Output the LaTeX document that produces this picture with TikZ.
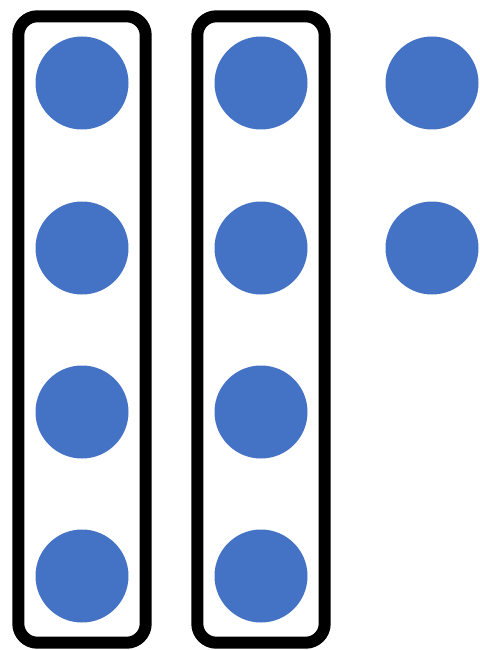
\documentclass[tikz,border=0pt]{standalone}
\usepackage{tikz}
\usetikzlibrary{positioning, fit}
\definecolor{dotblue}{HTML}{4472C4}

\begin{document}
\begin{tikzpicture}[x=1pt,y=-1pt,
    dot/.style={circle,fill=dotblue,minimum size=93pt,inner sep=0pt},
    frame/.style={draw,line width=12pt,rounded corners=19pt,inner xsep=17pt,inner ysep=20pt}]
      \useasboundingbox (0,0) rectangle (479,650);
      % first column
      \node[dot] (a1) at (82,83) {};
      \node[dot] (a2) at (82,248) {};
      \node[dot] (a3) at (82,412) {};
      \node[dot] (a4) at (82,576) {};
      % second column
      \node[dot] (b1) at (261,83) {};
      \node[dot] (b2) at (261,248) {};
      \node[dot] (b3) at (261,412) {};
      \node[dot] (b4) at (261,576) {};
      % leftover
      \node[dot] (c1) at (432,83) {};
      \node[dot] (c2) at (432,248) {};

      \node[frame, fit=(a1)(a4)] (groupa) {};
      \node[frame, fit=(b1)(b4)] (groupb) {};
    \end{tikzpicture}
\end{document}
